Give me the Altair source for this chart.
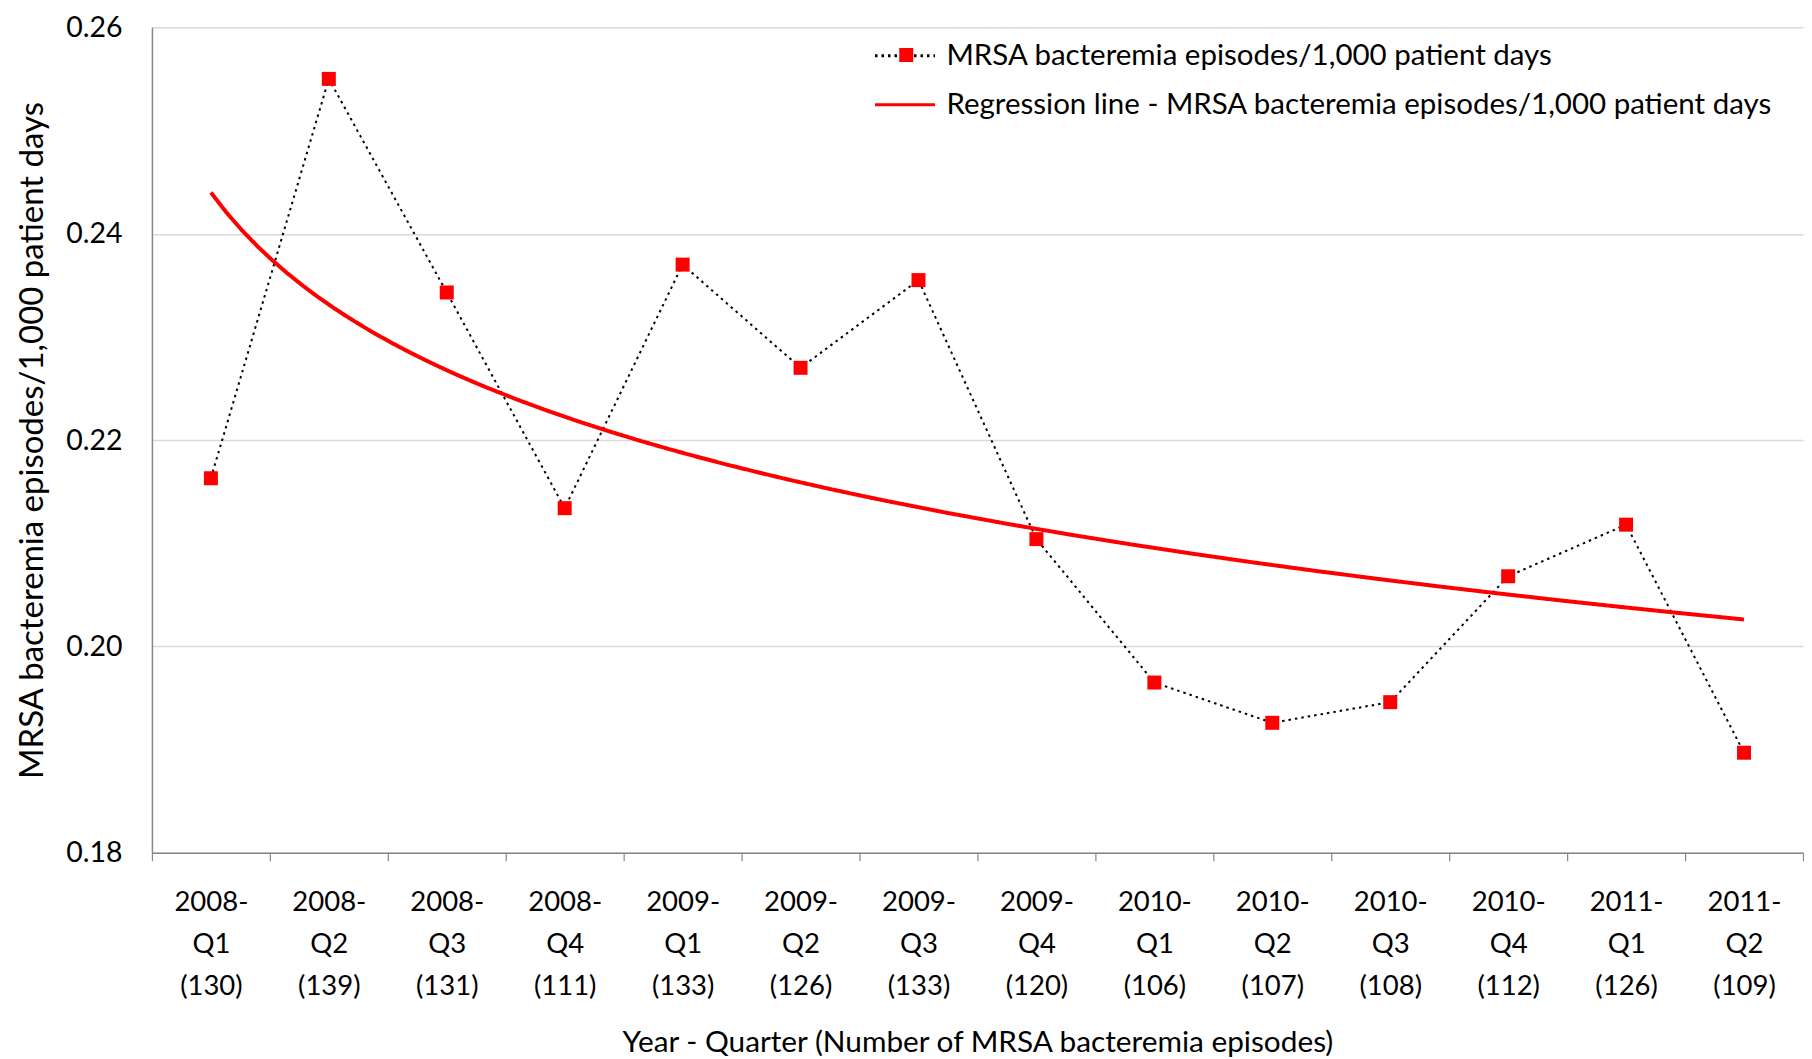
import json
import altair as alt
import pandas as pd

# ---- data ----
quarters = ["2008-Q1", "2008-Q2", "2008-Q3", "2008-Q4",
            "2009-Q1", "2009-Q2", "2009-Q3", "2009-Q4",
            "2010-Q1", "2010-Q2", "2010-Q3", "2010-Q4",
            "2011-Q1", "2011-Q2"]
episodes = [130, 139, 131, 111, 133, 126, 133, 120, 106, 107, 108, 112, 126, 109]
rates = [0.2163, 0.2550, 0.2343, 0.2134, 0.2370, 0.2270, 0.2355,
         0.2104, 0.1965, 0.1926, 0.1946, 0.2068, 0.2118, 0.1897]
y_ticks = [0.18, 0.20, 0.22, 0.24, 0.26]

series_obs = "MRSA bacteremia episodes/1,000 patient days"
series_reg = "Regression line - MRSA bacteremia episodes/1,000 patient days"
y_title = "MRSA bacteremia episodes/1,000 patient days"
x_title = "Year - Quarter (Number of MRSA bacteremia episodes)"

n = len(quarters)
df = pd.DataFrame({
    "idx": list(range(1, n + 1)),
    "quarter": quarters,
    "episodes": episodes,
    "rate": rates,
    "series": series_obs,
    "marker": series_obs,
})

label_lines = [[q.split("-")[0] + "-", q.split("-")[1], "(%d)" % e]
               for q, e in zip(quarters, episodes)]
label_expr = "datum.value % 1 == 0 ? " + json.dumps(label_lines) + "[datum.value - 1] : ''"
boundaries = [i + 0.5 for i in range(n + 1)]
axis_vals = sorted(boundaries + list(range(1, n + 1)))

FONT = "Lato"
AXIS_GRAY = "#868686"

x_enc = alt.X(
    "idx:Q",
    scale=alt.Scale(domain=[0.5, n + 0.5], nice=False, zero=False),
    axis=alt.Axis(
        values=axis_vals, labelExpr=label_expr, title=x_title, grid=False,
        labelOverlap=False, labelFlush=False,
        tickOpacity={"condition": {"test": "datum.value % 1 == 0", "value": 0}, "value": 1},
        tickSize=8, tickColor=AXIS_GRAY, tickWidth=1.2,
        domainColor=AXIS_GRAY, domainWidth=1.5,
        labelFont=FONT, labelFontSize=27.5, labelColor="black",
        labelLineHeight=42, labelPadding=28,
        titleFont=FONT, titleFontSize=29.8, titleFontWeight="normal", titleColor="black",
        titlePadding=27,
    ),
)
y_enc = alt.Y(
    "rate:Q",
    scale=alt.Scale(domain=[y_ticks[0], y_ticks[-1]], nice=False, zero=False),
    axis=alt.Axis(
        values=y_ticks, format=".2f", title=y_title, ticks=False,
        grid=True, gridColor="#d9d9d9", gridWidth=1.5,
        domainColor=AXIS_GRAY, domainWidth=1.5,
        labelFont=FONT, labelFontSize=28.5, labelColor="black", labelPadding=30,
        titleFont=FONT, titleFontSize=33, titleFontWeight="normal", titleColor="black",
        titlePadding=16,
    ),
)

line_legend = alt.Legend(
    orient="none", legendX=722, legendY=-3, title=None,
    labelFont=FONT, labelFontSize=29.5, labelColor="black", labelLimit=2000,
    symbolType="stroke", symbolSize=3600, symbolStrokeWidth=3,
    labelOffset=10, rowPadding=3, padding=0,
)
stroke_scale = alt.Scale(domain=[series_obs, series_reg], range=["black", "#ff0000"])
dash_scale = alt.Scale(domain=[series_obs, series_reg], range=[[2.5, 4], [1, 0]])

base = alt.Chart(df)

obs_line = base.mark_line(strokeWidth=2).encode(
    x=x_enc, y=y_enc,
    stroke=alt.Stroke("series:N", scale=stroke_scale, legend=line_legend),
    strokeDash=alt.StrokeDash("series:N", scale=dash_scale, legend=line_legend),
)

reg_line = base.transform_regression(
    "idx", "rate", method="log"
).transform_calculate(
    series=json.dumps(series_reg)
).mark_line(strokeWidth=4).encode(
    x=x_enc, y=y_enc,
    stroke=alt.Stroke("series:N", scale=stroke_scale, legend=line_legend),
    strokeDash=alt.StrokeDash("series:N", scale=dash_scale, legend=line_legend),
)

points = base.mark_square(size=196, opacity=1).encode(
    x=x_enc, y=y_enc,
    fill=alt.Fill(
        "marker:N",
        scale=alt.Scale(domain=[series_obs], range=["#ff0000"]),
        legend=alt.Legend(
            orient="none", legendX=740, legendY=13, title=None,
            labelExpr="''", labelFontSize=29.5, symbolType="square",
            symbolSize=196, padding=0, symbolStrokeWidth=0,
        ),
    ),
)

chart = alt.layer(obs_line, reg_line, points).properties(
    width=1652, height=826,
    padding={"left": 8, "top": 5, "right": 0, "bottom": 0},
    background="white",
).configure_view(stroke=None)

chart.save("out.html", embed_options={"renderer": "svg", "actions": False})
